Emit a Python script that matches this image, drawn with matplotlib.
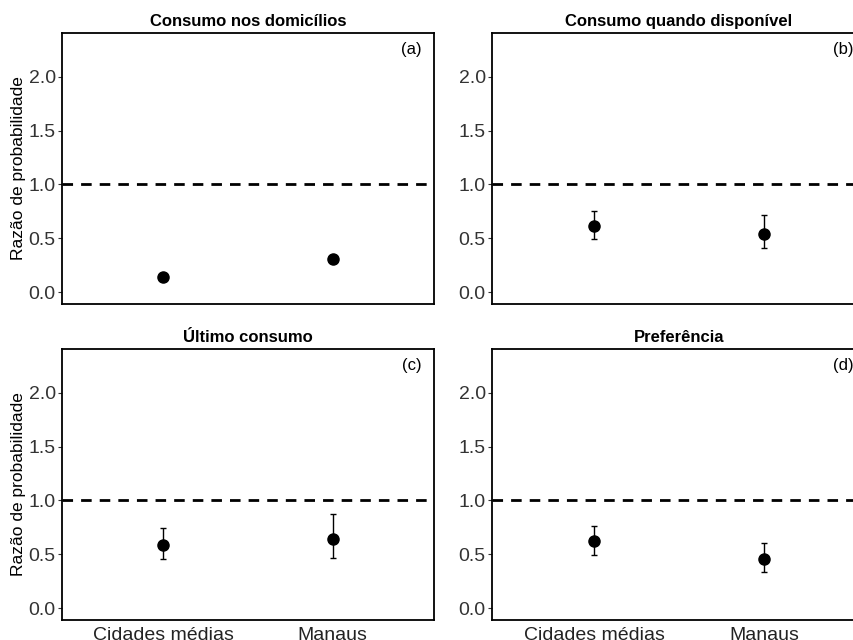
import matplotlib
matplotlib.use("Agg")
import matplotlib.pyplot as plt

plt.rcParams['font.family'] = ['Liberation Sans', 'DejaVu Sans']

categories = ["Cidades médias", "Manaus"]
titles = ["Consumo nos domicílios", "Consumo quando disponível", "Último consumo", "Preferência"]
panel_tags = ["(a)", "(b)", "(c)", "(d)"]

# odds ratios and confidence intervals per panel
or_a = [0.14, 0.31]
lo_a = [0.14, 0.31]
hi_a = [0.14, 0.31]

or_b = [0.61, 0.54]
lo_b = [0.49, 0.41]
hi_b = [0.75, 0.72]

or_c = [0.59, 0.64]
lo_c = [0.46, 0.47]
hi_c = [0.74, 0.87]

or_d = [0.62, 0.46]
lo_d = [0.49, 0.34]
hi_d = [0.76, 0.60]

yticks = [0.0, 0.5, 1.0, 1.5, 2.0]
ytick_labels = ["0.0", "0.5", "1.0", "1.5", "2.0"]

panels = [(or_a, lo_a, hi_a), (or_b, lo_b, hi_b), (or_c, lo_c, hi_c), (or_d, lo_d, hi_d)]

W, H = 854, 640
fig = plt.figure(figsize=(W / 100, H / 100), dpi=100)

# axes boxes in pixels: left, top, right, bottom
boxes = [(62, 33, 434, 304), (492, 33, 866, 304),
         (62, 349, 434, 620), (492, 349, 866, 620)]

for i, ((est, lo, hi), (l, t, r, b)) in enumerate(zip(panels, boxes)):
    ax = fig.add_axes([l / W, 1 - b / H, (r - l) / W, (b - t) / H])
    x = list(range(1, len(categories) + 1))
    yerr = [[e - a for e, a in zip(est, lo)], [c - e for e, c in zip(est, hi)]]
    ax.axhline(1.0, color='black', lw=2.0, ls=(0, (3.8, 2.9)), zorder=1)
    ax.errorbar(x, est, yerr=yerr, fmt='o', color='black', ms=8,
                elinewidth=1.0, capsize=2.5, capthick=1.0, zorder=3)
    ax.set_xlim(0.4, 2.6)
    ax.set_ylim(-0.11, 2.405)
    ax.set_yticks(yticks)
    ax.set_yticklabels(ytick_labels)
    ax.set_xticks(x)
    if i >= 2:
        ax.set_xticklabels(categories)
    else:
        ax.set_xticklabels([])
    ax.tick_params(axis='x', length=0, pad=5, labelsize=14, labelcolor='#222222')
    ax.tick_params(axis='y', length=3, width=0.8, pad=1.5, labelsize=14,
                   labelcolor='#333333', color='#333333')
    for s in ax.spines.values():
        s.set_linewidth(1.3)
        s.set_color('black')
    ax.set_title(titles[i], fontsize=12, fontweight='bold', pad=5)
    ax.text(0.94, 0.94, panel_tags[i], transform=ax.transAxes, ha='center',
            va='center', fontsize=12)
    if i % 2 == 0:
        ax.set_ylabel("Razão de probabilidade", fontsize=12.5, labelpad=2)

fig.savefig("out.png", dpi=100)
